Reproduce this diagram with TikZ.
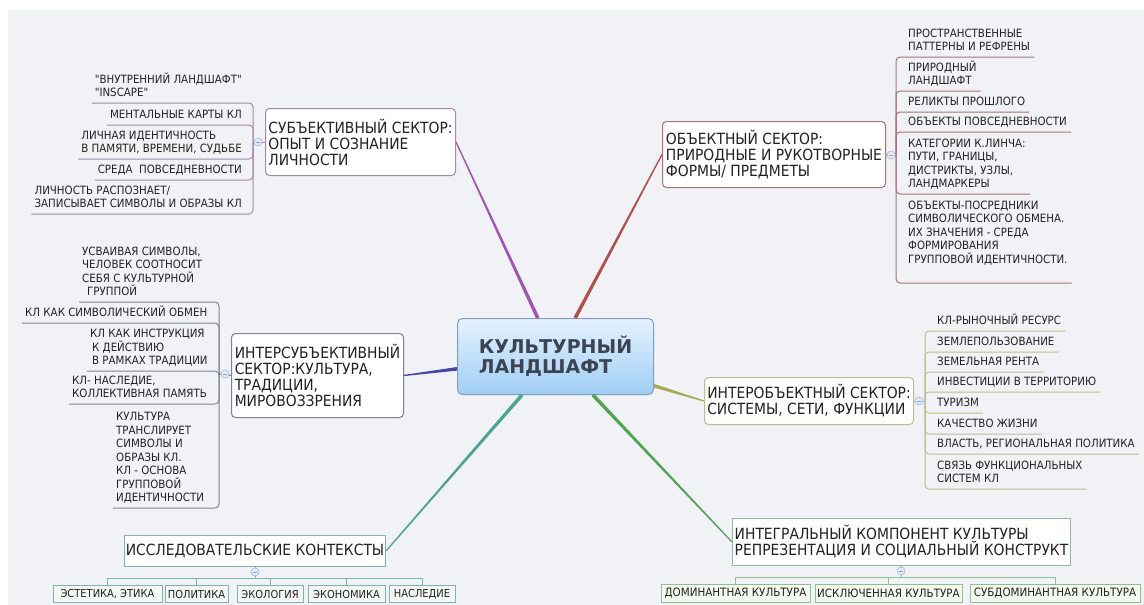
\documentclass[tikz,border=0pt]{standalone}
\usepackage{fontspec}
\setmainfont{DejaVu Sans}[FakeStretch=0.9]
\newfontfamily\ctrfamily{DejaVu Sans}
\newfontfamily\qfont{DejaVu Sans}[FakeStretch=0.9, Ligatures=ResetAll]
\usetikzlibrary{calc}
\definecolor{bgc}{HTML}{F1F2F6}
\definecolor{txt}{HTML}{222222}
\definecolor{purp}{HTML}{A155B3}
\definecolor{redb}{HTML}{B0504A}
\definecolor{blu}{HTML}{4745B0}
\definecolor{oliv}{HTML}{A6A854}
\definecolor{tealc}{HTML}{4BA394}
\definecolor{grn}{HTML}{52A452}
\definecolor{purpL}{HTML}{A489AA}
\definecolor{redL}{HTML}{A77373}
\definecolor{bluL}{HTML}{7F8196}
\definecolor{olivL}{HTML}{BDBD8E}
\definecolor{tealL}{HTML}{7DB5AE}
\definecolor{greenL}{HTML}{8DC08D}
\definecolor{tealF}{HTML}{F3F8F7}
\definecolor{greenF}{HTML}{F3F9EF}
\definecolor{tglB}{HTML}{9FB8D8}
\definecolor{tglF}{HTML}{E2ECF8}
\definecolor{tglM}{HTML}{86A3CB}
\definecolor{ctrT}{HTML}{E4F2FE}
\definecolor{ctrBot}{HTML}{A0CDF6}
\definecolor{ctrB}{HTML}{7F9CB8}
\definecolor{ctrTxt}{HTML}{3B4450}
\newcommand\mysecfont{\fontsize{15.4}{16}\selectfont}
\newcommand\myleaffont{\fontsize{11.4}{13.5}\selectfont}
\newcommand\mytagfont{\fontsize{11}{13}\selectfont}
\newcommand\mytagfontB{\fontsize{11.5}{13}\selectfont}
\newcommand\sq{{\qfont\char34}}
\newcommand\mybranch[3]{\fill[#1] ($(#2)!1.8pt!90:(#3)$) -- ($(#3)!0.6pt!-90:(#2)$) -- ($(#3)!0.6pt!90:(#2)$) -- ($(#2)!1.8pt!-90:(#3)$) -- cycle;}
\begin{document}
\begin{tikzpicture}[x=1pt,y=-1pt,
 sector/.style={draw=#1, fill=white, rounded corners=4pt, line width=1pt, inner sep=0pt, align=left, anchor=north west, font=\mysecfont, text=txt},
 leafR/.style={inner sep=0pt, align=left, anchor=south west, font=\myleaffont, text=txt, execute at end node=\strut},
 leafL/.style={leafR, anchor=south east},
 lf/.style={draw=#1, line width=1pt, rounded corners=4pt},
 tagbox/.style={draw=#1, line width=1pt, inner xsep=2pt, inner ysep=0pt, anchor=north, font=\mytagfont, text=txt},
 toggle/.style={circle, draw=tglB, fill=tglF, minimum size=8pt, inner sep=0pt, line width=0.6pt,
   path picture={\draw[tglM, line width=0.8pt] ($(path picture bounding box.west)+(2,0)$) -- ($(path picture bounding box.east)+(-2,0)$);}}
]
\useasboundingbox (0,0) rectangle (1144,605);
\fill[white] (0,0) rectangle (1144,605);
\fill[bgc] (8,10) rectangle (1144,605);

% central
\node[draw=ctrB, line width=1pt, rounded corners=5pt, top color=ctrT, bottom color=ctrBot, minimum width=196pt, minimum height=76pt, anchor=north west, inner sep=0pt, align=left, text=ctrTxt, font=\ctrfamily\bfseries\fontsize{19}{20}\selectfont] (ctr) at (457,318) {КУЛЬТУРНЫЙ\\ЛАНДШАФТ};

% sector boxes
\node[sector=purpL, minimum width=190pt, minimum height=67pt] (subj) at (265,108) {СУБЪЕКТИВНЫЙ СЕКТОР:\\ОПЫТ И СОЗНАНИЕ\\ЛИЧНОСТИ};
\node[sector=redL, minimum width=223pt, minimum height=66pt] (obj) at (662,121) {ОБЪЕКТНЫЙ СЕКТОР:\\ПРИРОДНЫЕ И РУКОТВОРНЫЕ\\ФОРМЫ/ ПРЕДМЕТЫ};
\node[sector=bluL, minimum width=172pt, minimum height=84pt] (isec) at (231,333) {ИНТЕРСУБЪЕКТИВНЫЙ\\СЕКТОР:КУЛЬТУРА,\\ТРАДИЦИИ,\\МИРОВОЗЗРЕНИЯ};
\node[sector=olivL, minimum width=209pt, minimum height=47pt] (iobj) at (704,377) {ИНТЕРОБЪЕКТНЫЙ СЕКТОР:\\СИСТЕМЫ, СЕТИ, ФУНКЦИИ};
\node[sector=tealL, sharp corners, align=center, minimum width=261pt, minimum height=31pt] (res) at (124,535) {ИССЛЕДОВАТЕЛЬСКИЕ КОНТЕКСТЫ};
\node[sector=greenL, sharp corners, minimum width=338pt, minimum height=47pt] (integ) at (732,518) {ИНТЕГРАЛЬНЫЙ КОМПОНЕНТ КУЛЬТУРЫ\\РЕПРЕЗЕНТАЦИЯ И СОЦИАЛЬНЫЙ КОНСТРУКТ};

% branch start points on the central node
\coordinate (bP) at ($(ctr.north west)!0.41!(ctr.north east)$);
\coordinate (bR) at ($(ctr.north west)!0.60!(ctr.north east)$);
\coordinate (bB) at ($(ctr.north west)!0.66!(ctr.south west)$);
\coordinate (bO) at ($(ctr.north east)!0.88!(ctr.south east)$);
\coordinate (bT) at ($(ctr.south west)!0.33!(ctr.south east)$);
\coordinate (bG) at ($(ctr.south west)!0.69!(ctr.south east)$);
\mybranch{purp}{bP}{subj.east}
\mybranch{redb}{bR}{obj.west}
\mybranch{blu}{bB}{isec.east}
\mybranch{oliv}{bO}{iobj.west}
\mybranch{tealc}{bT}{res.east}
\mybranch{grn}{bG}{integ.west}

% subjective leaves
\coordinate (sbjS) at (253,142);
\node[leafL] (s1) at (242,101) {\sq ВНУТРЕННИЙ ЛАНДШАФТ\sq\\\sq INSCAPE\sq};
\node[leafL] (s2) at (242,123) {МЕНТАЛЬНЫЕ КАРТЫ КЛ};
\node[leafL] (s3) at (242,157) {ЛИЧНАЯ ИДЕНТИЧНОСТЬ\\В ПАМЯТИ, ВРЕМЕНИ, СУДЬБЕ};
\node[leafL] (s4) at (242,178) {СРЕДА\ \ ПОВСЕДНЕВНОСТИ};
\node[leafL] (s5) at (242,212) {ЛИЧНОСТЬ РАСПОЗНАЕТ/\\ЗАПИСЫВАЕТ СИМВОЛЫ И ОБРАЗЫ КЛ};
\foreach \n in {s1,s2,s3,s4,s5} \draw[lf=purpL] ($(\n.south west)+(-3,2)$) -| (sbjS);
\draw[lf=purpL] (sbjS) -- (subj.west);
\node[toggle] (sbjT) at (258,142) {};

% objective leaves
\coordinate (objS) at (896,155);
\node[leafR] (o1) at (908,55) {ПРОСТРАНСТВЕННЫЕ\\ПАТТЕРНЫ И РЕФРЕНЫ};
\node[leafR] (o2) at (908,89) {ПРИРОДНЫЙ\\ЛАНДШАФТ};
\node[leafR] (o3) at (908,110) {РЕЛИКТЫ ПРОШЛОГО};
\node[leafR] (o4) at (908,130) {ОБЪЕКТЫ ПОВСЕДНЕВНОСТИ};
\node[leafR] (o5) at (908,192) {КАТЕГОРИИ К.ЛИНЧА:\\ПУТИ, ГРАНИЦЫ,\\ДИСТРИКТЫ, УЗЛЫ,\\ЛАНДМАРКЕРЫ};
\node[leafR] (o6) at (908,281) {ОБЪЕКТЫ-ПОСРЕДНИКИ\\СИМВОЛИЧЕСКОГО ОБМЕНА.\\ИХ ЗНАЧЕНИЯ - СРЕДА\\ФОРМИРОВАНИЯ\\ГРУППОВОЙ ИДЕНТИЧНОСТИ.\\\mbox{}};
\foreach \n in {o1,o2,o3,o4,o5,o6} \draw[lf=redL] (objS) |- ($(\n.south east)+(4,2)$);
\draw[lf=redL] (obj.east) -- (objS);
\node[toggle] (objT) at (891,155) {};

% interobjective leaves
\coordinate (ioS) at (925,401);
\node[leafR] (b1) at (937,329) {КЛ-РЫНОЧНЫЙ РЕСУРС};
\node[leafR] (b2) at (937,350) {ЗЕМЛЕПОЛЬЗОВАНИЕ};
\node[leafR] (b3) at (937,370) {ЗЕМЕЛЬНАЯ РЕНТА};
\node[leafR] (b4) at (937,390) {ИНВЕСТИЦИИ В ТЕРРИТОРИЮ};
\node[leafR] (b5) at (937,411) {ТУРИЗМ};
\node[leafR] (b6) at (937,432) {КАЧЕСТВО ЖИЗНИ};
\node[leafR] (b7) at (937,452) {ВЛАСТЬ, РЕГИОНАЛЬНАЯ ПОЛИТИКА};
\node[leafR] (b8) at (937,487) {СВЯЗЬ ФУНКЦИОНАЛЬНЫХ\\СИСТЕМ КЛ};
\foreach \n in {b1,b2,b3,b4,b5,b6,b7,b8} \draw[lf=olivL] (ioS) |- ($(\n.south east)+(4,2)$);
\draw[lf=olivL] (iobj.east) -- (ioS);
\node[toggle] (ioT) at (919,401) {};

% intersubjective leaves
\coordinate (isS) at (219,374);
\node[leafR] (i1) at (82,300) {УСВАИВАЯ СИМВОЛЫ,\\ЧЕЛОВЕК СООТНОСИТ\\СЕБЯ С КУЛЬТУРНОЙ\\\hspace*{5pt}ГРУППОЙ};
\node[leafR] (i2) at (25,321) {КЛ КАК СИМВОЛИЧЕСКИЙ ОБМЕН};
\node[leafR] (i3) at (90,369) {КЛ КАК ИНСТРУКЦИЯ\\\hspace*{2pt}К ДЕЙСТВИЮ\\\hspace*{2pt}В РАМКАХ ТРАДИЦИИ};
\node[leafR] (i4) at (72,402) {КЛ- НАСЛЕДИЕ,\\КОЛЛЕКТИВНАЯ ПАМЯТЬ};
\node[leafR] (i5) at (116,506) {КУЛЬТУРА\\ТРАНСЛИРУЕТ\\СИМВОЛЫ И\\ОБРАЗЫ КЛ.\\КЛ - ОСНОВА\\ГРУППОВОЙ\\ИДЕНТИЧНОСТИ};
\foreach \n in {i1,i2,i3,i4,i5} \draw[lf=bluL] ($(\n.south west)+(-3,2)$) -| (isS);
\draw[lf=bluL] (isS) -- (isec.west);
\node[toggle] (isT) at (225,374) {};

% research contexts
\coordinate (resB) at (255,578);
\node[tagbox=tealL, fill=tealF, minimum height=17pt, minimum width=109pt] (r1) at (107.5,585) {ЭСТЕТИКА, ЭТИКА};
\node[tagbox=tealL, fill=tealF, minimum height=17pt, minimum width=63pt] (r2) at (196.5,585) {ПОЛИТИКА};
\node[tagbox=tealL, fill=tealF, minimum height=17pt, minimum width=66pt] (r3) at (270,585) {ЭКОЛОГИЯ};
\node[tagbox=tealL, fill=tealF, minimum height=17pt, minimum width=77pt] (r4) at (346.5,585) {ЭКОНОМИКА};
\node[tagbox=tealL, fill=tealF, minimum height=17pt, minimum width=66pt] (r5) at (422,585) {НАСЛЕДИЕ};
\draw[tealL, line width=1pt] (res.south) -- (resB);
\foreach \n in {r1,r2,r3,r4,r5} \draw[tealL, line width=1pt] (resB) -| (\n.north);
\node[toggle] (resT) at (255,572) {};

% integral component
\coordinate (intB) at (901,577);
\node[tagbox=greenL, fill=greenF, font=\mytagfontB, minimum height=18pt, minimum width=149pt] (g1) at (735.5,584) {ДОМИНАНТНАЯ КУЛЬТУРА};
\node[tagbox=greenL, fill=greenF, font=\mytagfontB, minimum height=18pt, minimum width=147pt] (g2) at (888.5,584) {ИСКЛЮЧЕННАЯ КУЛЬТУРА};
\node[tagbox=greenL, fill=greenF, font=\mytagfontB, minimum height=18pt, minimum width=170pt] (g3) at (1055,584) {СУБДОМИНАНТНАЯ КУЛЬТУРА};
\draw[greenL, line width=1pt] (integ.south) -- (intB);
\foreach \n in {g1,g2,g3} \draw[greenL, line width=1pt] (intB) -| (\n.north);
\node[toggle] (intT) at (901,571) {};
\end{tikzpicture}
\end{document}
